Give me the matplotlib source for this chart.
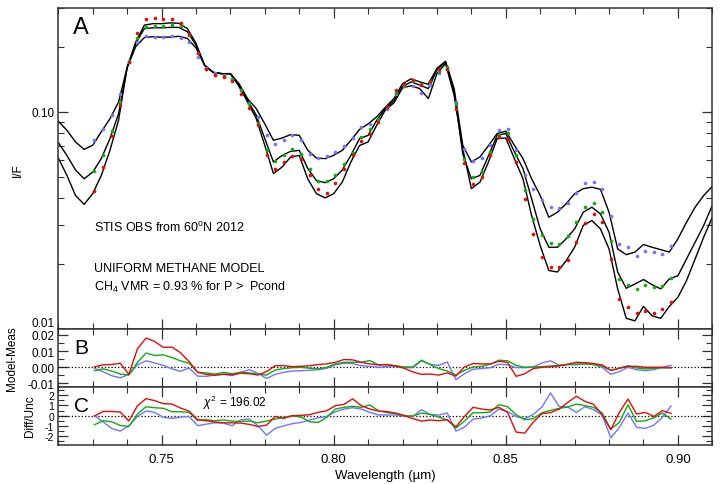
import numpy as np
import matplotlib
matplotlib.use("Agg")
import matplotlib.pyplot as plt
from matplotlib.ticker import FixedLocator, NullFormatter, FixedFormatter, MultipleLocator

plt.rcParams['font.family'] = ['Liberation Sans', 'DejaVu Sans']
plt.rcParams['mathtext.fontset'] = 'custom'
plt.rcParams['mathtext.rm'] = 'Liberation Sans'
plt.rcParams['mathtext.it'] = 'Liberation Sans:italic'
plt.rcParams['axes.unicode_minus'] = False

"""
Data read off the figure
"""
# wavelength grid of the STIS measurements (um)
wl_obs = np.round(np.arange(0.7305, 0.8981, 0.0025), 4)
# wavelength grid of the model spectra (um)
wl_mod = np.round(np.arange(0.7200, 0.9101, 0.0025), 4)

# measured I/F (dots)
obs_blue = [0.0740, 0.0832, 0.0965, 0.1215, 0.170, 0.209, 0.224, 0.222, 0.221, 0.223,
            0.220, 0.210, 0.179, 0.160, 0.1505, 0.1486, 0.1425, 0.126, 0.1104, 0.0949,
            0.078, 0.071, 0.074, 0.078, 0.074, 0.0642, 0.0613, 0.0627, 0.0654, 0.070,
            0.0759, 0.0853, 0.0883, 0.0932, 0.1036, 0.1215, 0.1317, 0.1317, 0.1228, 0.1327,
            0.1518, 0.157, 0.111, 0.0677, 0.0592, 0.061, 0.0702, 0.0829, 0.0832, 0.0665,
            0.0514, 0.0440, 0.0391, 0.0363, 0.0360, 0.0381, 0.0424, 0.0471, 0.0476, 0.0440,
            0.0333, 0.0247, 0.0238, 0.0218, 0.0229, 0.0226, 0.0222, 0.0240]
obs_green = [0.0532, 0.0635, 0.082, 0.111, 0.171, 0.220, 0.245, 0.249, 0.249, 0.251,
             0.2475, 0.226, 0.186, 0.1574, 0.148, 0.1466, 0.1415, 0.126, 0.109, 0.0893,
             0.0665, 0.0592, 0.0631, 0.0672, 0.0642, 0.0543, 0.0482, 0.0483, 0.0510, 0.0578,
             0.0649, 0.0766, 0.0832, 0.0932, 0.1054, 0.1228, 0.1337, 0.1385, 0.134, 0.1375,
             0.1540, 0.161, 0.109, 0.0609, 0.0500, 0.0528, 0.0654, 0.0786, 0.0803, 0.0631,
             0.0435, 0.0322, 0.0272, 0.0248, 0.0247, 0.0268, 0.0311, 0.0364, 0.0380, 0.0345,
             0.0255, 0.0170, 0.0159, 0.0153, 0.0159, 0.0156, 0.0157, 0.0172]
obs_red = [0.043, 0.0558, 0.0772, 0.1073, 0.170, 0.230, 0.269, 0.270, 0.268, 0.268,
           0.258, 0.228, 0.186, 0.157, 0.148, 0.145, 0.1395, 0.1215, 0.1047, 0.0868,
           0.0631, 0.0543, 0.0588, 0.0627, 0.0609, 0.0510, 0.044, 0.0424, 0.0472, 0.0548,
           0.0631, 0.0732, 0.0795, 0.0899, 0.1054, 0.1258, 0.1351, 0.140, 0.1327, 0.1385,
           0.157, 0.157, 0.1036, 0.0584, 0.0467, 0.050, 0.0631, 0.0770, 0.0753, 0.0588,
           0.0398, 0.0274, 0.0215, 0.0194, 0.0193, 0.0207, 0.0251, 0.0308, 0.0337, 0.0311,
           0.0210, 0.0137, 0.0126, 0.0119, 0.0121, 0.0119, 0.0124, 0.0133]

# model I/F (black lines), upper / middle / lower curve
mod_top = [0.0906, 0.0823, 0.0727, 0.0672, 0.0702, 0.081, 0.093, 0.111, 0.160, 0.200,
           0.220, 0.222, 0.221, 0.221, 0.223, 0.218, 0.197, 0.164, 0.152, 0.150,
           0.150, 0.135, 0.115, 0.1036, 0.088, 0.074, 0.0758, 0.0786, 0.078, 0.0665,
           0.0613, 0.0609, 0.0631, 0.0665, 0.074, 0.083, 0.088, 0.0949, 0.105, 0.1152,
           0.1349, 0.142, 0.1375, 0.134, 0.159, 0.171, 0.128, 0.0702, 0.0588, 0.062,
           0.070, 0.0795, 0.0815, 0.0702, 0.061, 0.0492, 0.0412, 0.0327, 0.0345, 0.0377,
           0.042, 0.0443, 0.045, 0.044, 0.0345, 0.0234, 0.022, 0.0226, 0.0245, 0.0238,
           0.0232, 0.0226, 0.026, 0.031, 0.0364, 0.0412, 0.0454]
mod_mid = [0.0722, 0.063, 0.054, 0.0492, 0.0528, 0.061, 0.0753, 0.098, 0.160, 0.207,
           0.242, 0.244, 0.244, 0.245, 0.245, 0.234, 0.203, 0.164, 0.152, 0.150,
           0.150, 0.133, 0.113, 0.0965, 0.0753, 0.0588, 0.063, 0.0658, 0.0665, 0.0548,
           0.0483, 0.0472, 0.0492, 0.054, 0.063, 0.0753, 0.078, 0.0915, 0.1036, 0.1125,
           0.131, 0.1375, 0.133, 0.128, 0.156, 0.170, 0.124, 0.064, 0.0492, 0.051,
           0.063, 0.078, 0.0795, 0.0654, 0.0548, 0.0398, 0.0289, 0.0238, 0.0238, 0.026,
           0.0289, 0.0345, 0.0364, 0.0339, 0.0279, 0.0183, 0.0154, 0.0161, 0.0169, 0.016,
           0.0153, 0.017, 0.0176, 0.021, 0.0251, 0.030, 0.0371]
mod_low = [0.0613, 0.051, 0.0412, 0.0375, 0.042, 0.051, 0.0665, 0.0915, 0.160, 0.210,
           0.251, 0.255, 0.255, 0.257, 0.256, 0.242, 0.207, 0.164, 0.152, 0.150,
           0.150, 0.131, 0.111, 0.0932, 0.070, 0.052, 0.0557, 0.062, 0.063, 0.049,
           0.042, 0.0402, 0.042, 0.0475, 0.0588, 0.070, 0.0727, 0.0868, 0.102, 0.110,
           0.129, 0.132, 0.128, 0.1152, 0.150, 0.167, 0.119, 0.0677, 0.0443, 0.0475,
           0.059, 0.0753, 0.0758, 0.0609, 0.0492, 0.0333, 0.0242, 0.0186, 0.0183, 0.0206,
           0.0238, 0.030, 0.0316, 0.0289, 0.0234, 0.0153, 0.0112, 0.0109, 0.0127, 0.0115,
           0.0112, 0.0127, 0.014, 0.0167, 0.021, 0.0265, 0.0327]

# panel B: model - measurement
diff_red = [0.0003, 0.0015, 0.0017, 0.0025, -0.0044, 0.0115, 0.0181, 0.016, 0.0123, 0.0125,
            0.009, 0.0035, -0.0031, -0.0044, -0.0050, -0.0042, -0.0046, -0.0037, -0.0040, -0.0048,
            -0.0027, 0.0010, 0.0010, 0.0004, 0.0006, 0.0010, 0.0017, 0.0021, 0.0031, 0.0048,
            0.0046, 0.0031, 0.0021, 0.0015, 0.0017, 0.0008, -0.0006, -0.0029, -0.0044, -0.0042,
            -0.0048, -0.0035, -0.0054, 0.0002, 0.0023, 0.0021, 0.0021, 0.0037, 0.0031, -0.0056,
            -0.0040, -0.0008, 0.0, 0.0003, 0.0008, 0.0019, 0.0031, 0.0029, 0.0023, 0.0015,
            -0.0019, -0.0006, 0.0006, 0.0006, 0.0, 0.0, 0.0, -0.0002]
diff_green = [-0.0021, -0.0010, -0.0023, -0.0042, -0.0048, 0.0031, 0.0088, 0.0073, 0.0077, 0.0060,
              0.0040, 0.0025, -0.0031, -0.0035, -0.0042, -0.0031, -0.0040, -0.0031, -0.0035, -0.0042,
              -0.0048, -0.0017, -0.0008, -0.0002, 0.0, -0.0006, -0.0010, 0.0, 0.0021, 0.0031,
              0.0031, 0.0031, 0.0042, 0.0015, 0.0015, 0.0010, 0.0002, 0.0002, 0.0044, 0.0017,
              -0.0008, -0.0023, -0.0048, -0.0019, 0.0002, 0.0006, 0.0019, 0.0044, 0.0040, 0.0012,
              0.0, 0.0002, 0.0004, 0.0008, 0.0012, 0.0017, 0.0021, 0.0021, 0.0017, 0.0006,
              -0.0019, -0.0006, 0.0010, -0.0004, -0.0010, -0.0006, -0.0004, -0.0004]
diff_blue = [-0.0006, -0.0027, -0.0052, -0.0065, -0.0044, 0.0015, 0.0040, 0.0027, 0.0012, -0.0010,
             -0.0025, -0.0005, -0.0055, -0.0056, -0.0048, -0.0044, -0.0052, -0.0031, -0.0015, -0.0037,
             -0.0069, -0.0044, -0.0031, -0.0023, -0.0021, -0.0019, -0.0015, -0.0006, 0.0015, 0.0025,
             0.0023, 0.0010, 0.0006, 0.0, 0.0004, 0.0006, -0.0002, -0.0002, 0.0040, 0.0019,
             0.0012, 0.0033, -0.0077, -0.0040, -0.0012, -0.0008, -0.0002, 0.0019, 0.0015, -0.0002,
             -0.0002, 0.0002, 0.0027, 0.0040, 0.0012, 0.0017, 0.0015, 0.0021, 0.0017, 0.0,
             -0.0044, -0.0027, 0.0, -0.0015, -0.0021, -0.0015, 0.0, 0.0012]

# panel C: difference / uncertainty
norm_red = [-0.03, 0.42, 0.42, 0.36, -0.52, 0.98, 1.67, 1.47, 1.18, 1.14,
            0.75, 0.44, -0.39, -0.49, -0.62, -0.69, -0.69, -0.72, -0.85, -1.05,
            -0.92, -0.07, -0.26, 0.0, 0.03, 0.10, 0.33, 0.49, 0.98, 1.11,
            1.65, 0.98, 0.65, 0.46, 0.40, 0.26, 0.03, -0.29, -0.52, -0.42,
            -0.49, -0.39, -1.08, -0.07, 0.82, 0.65, 0.56, 0.82, 0.33, -1.60,
            -1.70, -0.62, 0.20, 0.30, 0.65, 1.30, 1.90, 1.40, 1.11, 0.10,
            -1.37, 0.33, 1.63, 0.16, 0.33, -0.07, 0.49, 0.23]
norm_green = [-0.88, -0.49, -0.59, -0.95, -1.05, 0.16, 0.88, 0.78, 0.72, 0.39,
              0.39, 0.33, -0.46, -0.39, -0.49, -0.42, -0.52, -0.56, -0.52, -0.69,
              -0.52, -0.33, -0.16, 0.0, -0.13, -0.59, -0.65, -0.16, 0.65, 0.82,
              0.92, 0.82, 1.05, 0.49, 0.30, 0.20, 0.0, -0.03, 0.26, 0.13,
              -0.13, -0.42, -1.21, -0.52, 0.29, 0.29, 0.36, 1.08, 0.88, 0.10,
              -0.39, -0.29, 0.29, 0.52, 0.72, 0.85, 1.14, 0.98, 0.82, 0.26,
              -1.31, -0.65, 1.08, -0.56, -0.49, -0.20, 0.26, -0.33]
norm_blue = [0.0, -0.59, -1.24, -1.50, -0.98, -0.07, 0.46, 0.33, -0.16, -0.26,
             -0.13, -0.07, -0.98, -0.82, -0.69, -0.72, -0.98, -0.39, -0.33, -0.98,
             -1.90, -1.24, -0.98, -0.78, -0.65, -0.42, -0.20, -0.07, 0.39, 0.65,
             0.78, 0.65, 0.33, 0.07, 0.07, 0.07, -0.07, -0.07, 0.59, 0.13,
             0.07, 0.26, -1.50, -1.11, -0.33, -0.23, 0.0, 0.65, 0.39, -0.07,
             -0.29, 0.13, 0.85, 2.22, 0.90, 0.85, 0.33, 0.88, 0.59, 0.07,
             -2.16, -1.14, 0.26, -1.14, -1.24, -0.92, -0.16, 0.95]

chi2 = 196.02

red = (0.88, 0.05, 0.05)
green = (0.05, 0.68, 0.05)
blue = (0.45, 0.45, 1.0)
frame = '#333333'

"""
Plotting
"""
fig = plt.figure(figsize=(7.27, 4.85), dpi=100)
axA = fig.add_axes([0.0802, 0.3196, 0.8996, 0.6612])
axB = fig.add_axes([0.0802, 0.2010, 0.8996, 0.1186])
axC = fig.add_axes([0.0802, 0.0810, 0.8996, 0.1200])

# panel A
for m in (mod_top, mod_mid, mod_low):
    axA.plot(wl_mod, m, color='black', lw=1.0)
axA.plot(wl_obs, obs_blue, 'o', color=blue, ms=2.6, mew=0)
axA.plot(wl_obs, obs_green, 'o', color=green, ms=2.6, mew=0)
axA.plot(wl_obs, obs_red, 'o', color=red, ms=2.6, mew=0)
axA.set_yscale('log')
axA.set_ylim(0.01, 0.30)
axA.yaxis.set_major_locator(FixedLocator([0.01, 0.1]))
axA.yaxis.set_major_formatter(FixedFormatter(['0.01', '0.10']))
axA.yaxis.set_minor_locator(FixedLocator([0.02, 0.03, 0.04, 0.05, 0.06, 0.07, 0.08, 0.09, 0.2, 0.3]))
axA.yaxis.set_minor_formatter(NullFormatter())
axA.set_ylabel('I/F', fontsize=8.5)
axA.yaxis.set_label_coords(-0.052, 0.5)
axA.text(0.0225, 0.975, 'A', transform=axA.transAxes, fontsize=17, va='top', ha='left')
axA.text(0.0546, 0.3056, 'STIS OBS from 60$^{\\rm o}$N 2012', transform=axA.transAxes,
         fontsize=9, va='baseline')
axA.text(0.0546, 0.181, 'UNIFORM METHANE MODEL', transform=axA.transAxes,
         fontsize=9, va='baseline')
axA.text(0.0546, 0.1216, 'CH$_4$ VMR = 0.93 % for P >  Pcond', transform=axA.transAxes,
         fontsize=9, va='baseline')

# panel B
axB.axhline(0, color='black', ls=':', lw=0.9)
axB.plot(wl_obs, diff_blue, color=blue, lw=1.0)
axB.plot(wl_obs, diff_green, color=green, lw=1.0)
axB.plot(wl_obs, diff_red, color=red, lw=1.0)
axB.set_ylim(-0.0119, 0.0237)
axB.yaxis.set_major_locator(FixedLocator([-0.01, 0.0, 0.01, 0.02]))
axB.yaxis.set_major_formatter(FixedFormatter(['-0.01', '0.00', '0.01', '0.02']))
axB.yaxis.set_minor_locator(MultipleLocator(0.005))
axB.set_ylabel('Model-Meas', fontsize=8.5)
axB.yaxis.set_label_coords(-0.062, 0.5)
axB.text(0.0245, 0.843, 'B', transform=axB.transAxes, fontsize=15, va='top', ha='left')

# panel C
axC.axhline(0, color='black', ls=':', lw=0.9)
axC.plot(wl_obs, norm_blue, color=blue, lw=1.0)
axC.plot(wl_obs, norm_green, color=green, lw=1.0)
axC.plot(wl_obs, norm_red, color=red, lw=1.0)
axC.set_ylim(-2.83, 2.85)
axC.yaxis.set_major_locator(FixedLocator([-2, -1, 0, 1, 2]))
axC.yaxis.set_major_formatter(FixedFormatter(['-2', '-1', '0', '1', '2']))
axC.yaxis.set_minor_locator(MultipleLocator(0.5))
axC.set_ylabel('Diff/Unc', fontsize=8.5)
axC.yaxis.set_label_coords(-0.034, 0.5)
axC.text(0.0245, 0.837, 'C', transform=axC.transAxes, fontsize=15, va='top', ha='left')
axC.text(0.221, 0.673, '$\\chi^2$ = %.2f' % chi2, transform=axC.transAxes,
         fontsize=8.5, va='baseline')
axC.set_xlabel('Wavelength (\u00b5m)', fontsize=9.5, labelpad=3)

for ax in (axA, axB, axC):
    ax.set_xlim(0.72, 0.91)
    ax.xaxis.set_major_locator(FixedLocator([0.75, 0.80, 0.85, 0.90]))
    ax.xaxis.set_minor_locator(MultipleLocator(0.01))
    ax.tick_params(which='both', direction='in', top=True, right=True, color=frame)
    ax.tick_params(which='major', length=7, width=0.9, labelsize=8.5, pad=3)
    ax.tick_params(which='minor', length=4, width=0.8)
    for s in ax.spines.values():
        s.set_color(frame)
        s.set_linewidth(1.1)
axA.tick_params(labelbottom=False)
axB.tick_params(labelbottom=False)
# tick labels of C are packed tight, keep them a little smaller
axC.tick_params(axis='y', labelsize=7.5)
axC.xaxis.set_major_formatter(FixedFormatter(['0.75', '0.80', '0.85', '0.90']))
axC.tick_params(axis='x', labelsize=9.5, pad=6)

# the 0.01 label of panel A sits just above the panel edge, as in the original
fig.canvas.draw()
for lab in axA.get_yticklabels():
    if lab.get_text() == '0.01':
        lab.set_va('bottom')

fig.savefig('out.png', dpi=100)
